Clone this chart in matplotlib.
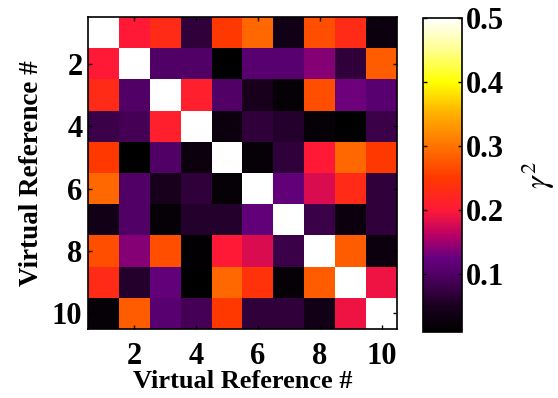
import numpy as np
import matplotlib
matplotlib.use('Agg')
import matplotlib.pyplot as plt
from matplotlib.colors import LinearSegmentedColormap

# chi^2-like values between virtual references
refs = list(range(1, 11))
tick_vals = [2, 4, 6, 8, 10]
cbar_ticks = [0.1, 0.2, 0.3, 0.4, 0.5]

row1 = [0.50, 0.20, 0.23, 0.07, 0.25, 0.29, 0.04, 0.27, 0.23, 0.03]
row2 = [0.20, 0.50, 0.10, 0.10, 0.01, 0.11, 0.11, 0.14, 0.07, 0.28]
row3 = [0.23, 0.10, 0.50, 0.21, 0.10, 0.05, 0.02, 0.27, 0.13, 0.11]
row4 = [0.08, 0.09, 0.21, 0.50, 0.03, 0.07, 0.06, 0.02, 0.01, 0.08]
row5 = [0.25, 0.01, 0.10, 0.03, 0.50, 0.02, 0.07, 0.20, 0.29, 0.25]
row6 = [0.29, 0.10, 0.05, 0.07, 0.02, 0.50, 0.12, 0.18, 0.23, 0.07]
row7 = [0.04, 0.10, 0.02, 0.06, 0.06, 0.12, 0.50, 0.08, 0.03, 0.07]
row8 = [0.27, 0.14, 0.27, 0.015, 0.20, 0.18, 0.08, 0.50, 0.28, 0.03]
row9 = [0.23, 0.06, 0.12, 0.01, 0.29, 0.24, 0.02, 0.28, 0.50, 0.19]
row10 = [0.02, 0.28, 0.11, 0.09, 0.25, 0.07, 0.07, 0.04, 0.19, 0.50]

M = np.array([row1, row2, row3, row4, row5, row6, row7, row8, row9, row10])

vmin, vmax = 0.01, 0.5
# black -> purple -> red -> orange -> yellow -> white
anchors = [
    (0.01, (0.0, 0.0, 0.0)),
    (0.05, (0.10, 0.0, 0.12)),
    (0.10, (0.32, 0.0, 0.40)),
    (0.125, (0.40, 0.0, 0.50)),
    (0.16, (0.72, 0.0, 0.40)),
    (0.20, (1.0, 0.10, 0.22)),
    (0.25, (1.0, 0.22, 0.0)),
    (0.30, (1.0, 0.45, 0.0)),
    (0.35, (1.0, 0.68, 0.0)),
    (0.40, (1.0, 1.0, 0.0)),
    (0.45, (1.0, 1.0, 0.55)),
    (0.50, (1.0, 1.0, 1.0)),
]
cmap = LinearSegmentedColormap.from_list(
    'chi', [((v - vmin) / (vmax - vmin), c) for v, c in anchors])

plt.rcParams['font.family'] = 'Liberation Serif'
plt.rcParams['mathtext.fontset'] = 'stix'

fig = plt.figure(figsize=(5.58, 3.98), dpi=100)
ax = fig.add_axes([88/558, 1 - 329/398, 309/558, 312/398])
im = ax.imshow(M, cmap=cmap, vmin=vmin, vmax=vmax, interpolation='nearest',
               extent=[0.5, 10.5, 10.5, 0.5], aspect='auto')
ax.set_xticks(tick_vals)
ax.set_yticks(tick_vals)
ax.tick_params(direction='in', top=True, right=True, length=3, labelsize=22,
               width=1)
ax.tick_params(axis='x', pad=9)
ax.tick_params(axis='y', pad=4)
for lab in ax.get_xticklabels() + ax.get_yticklabels():
    lab.set_fontweight('bold')
ax.set_xlabel('Virtual Reference #', fontsize=19, fontweight='bold', labelpad=0)
ax.set_ylabel('Virtual Reference #', fontsize=19.5, fontweight='bold', labelpad=6)
for s in ax.spines.values():
    s.set_linewidth(1.2)

cax = fig.add_axes([423/558, 1 - 332/398, 39/558, 314/398])
cb = fig.colorbar(im, cax=cax, ticks=cbar_ticks)
cb.ax.tick_params(direction='in', left=True, right=True, length=3,
                  labelsize=22, width=1, pad=3)
for lab in cb.ax.get_yticklabels():
    lab.set_fontweight('bold')
cb.set_label(r'$\gamma^2$', fontsize=23, rotation=90, labelpad=11)
cb.outline.set_linewidth(1.2)

fig.savefig('out.png', dpi=100)
